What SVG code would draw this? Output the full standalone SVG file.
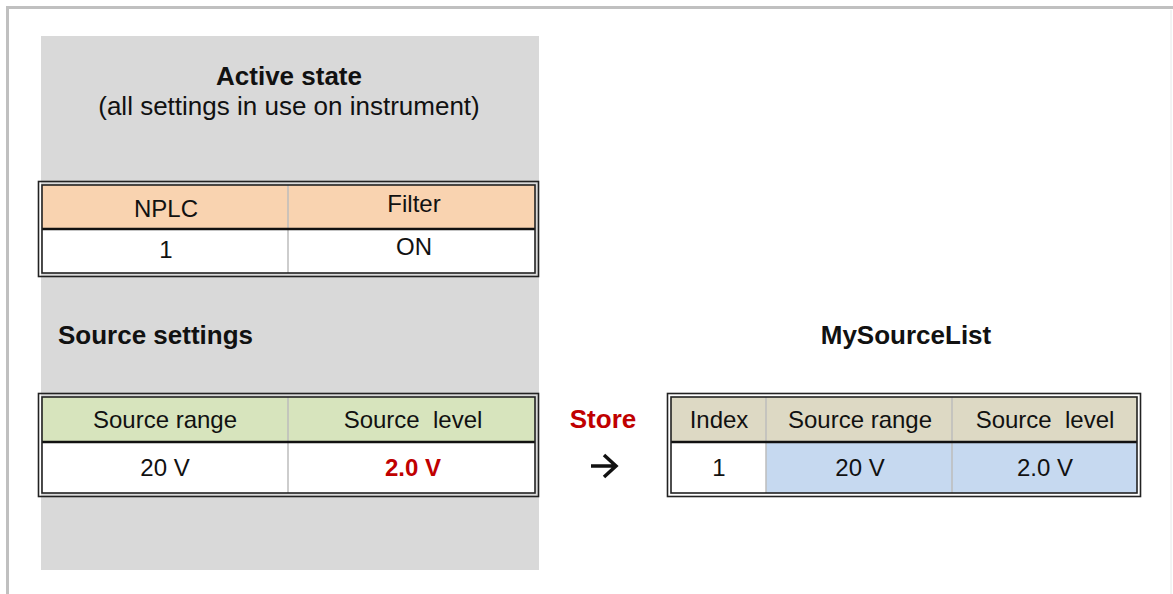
<svg xmlns="http://www.w3.org/2000/svg" width="1173" height="594" viewBox="0 0 1173 594">
<style>
text{font-family:"Liberation Sans",Arial,sans-serif;fill:#111}
.b{font-weight:bold;font-size:26px}
.r{font-size:26px}
.t{font-size:24px;text-anchor:middle}
.red{fill:#c00000}
.o{fill:none;stroke:#222;stroke-width:1.6}
.div{stroke:#bdbdbd;stroke-width:1.5}
.hl{stroke:#111;stroke-width:2.5}
.arr{fill:none;stroke:#111;stroke-width:3.5}
</style>
<rect x="0" y="0" width="1173" height="594" fill="#fff"/>
<rect x="7.5" y="7.5" width="1200" height="620" fill="none" stroke="#c0c0c0" stroke-width="3"/>
<line x1="1171" y1="10" x2="1171" y2="594" stroke="#e8e8e8" stroke-width="1"/>
<g id="active-panel">
<rect x="41" y="36" width="498" height="534" fill="#d9d9d9"/>
<text class="b" x="289" y="85" text-anchor="middle">Active state</text>
<text class="r" x="289" y="115" text-anchor="middle">(all settings in use on instrument)</text>
</g>
<g id="table-nplc">
<rect x="42" y="185" width="493" height="44" fill="#f9d3b0"/>
<rect x="42" y="229" width="493" height="44" fill="#fff"/>
<line class="div" x1="288" y1="185" x2="288" y2="273"/>
<line class="hl" x1="42" y1="229" x2="535" y2="229"/>
<rect class="o" x="38.5" y="181.5" width="500" height="95"/>
<rect class="o" x="42" y="185" width="493" height="88"/>
<text class="t" x="166" y="217">NPLC</text>
<text class="t" x="414" y="212">Filter</text>
<text class="t" x="166" y="258">1</text>
<text class="t" x="414" y="255">ON</text>
</g>
<g id="source-settings">
<text class="b" x="58" y="344">Source settings</text>
<rect x="42" y="397" width="493" height="45" fill="#d7e4bd"/>
<rect x="42" y="442" width="493" height="51" fill="#fff"/>
<line class="div" x1="288" y1="397" x2="288" y2="493"/>
<line class="hl" x1="42" y1="442" x2="535" y2="442"/>
<rect class="o" x="38.5" y="393.5" width="500" height="103"/>
<rect class="o" x="42" y="397" width="493" height="96"/>
<text class="t" x="165" y="428">Source range</text>
<text class="t" x="413" y="428" xml:space="preserve">Source  level</text>
<text class="t" x="165" y="476">20 V</text>
<text class="t red" x="413" y="476" font-weight="bold">2.0 V</text>
</g>
<g id="connectors">
<text class="b red" x="603" y="428" text-anchor="middle">Store</text>
<path class="arr" d="M591 466 H616 M604 455 L616 466 L604 477"/>
</g>
<g id="mysourcelist">
<text class="b" x="906" y="344" text-anchor="middle">MySourceList</text>
<rect x="671" y="397" width="466" height="45" fill="#ddd9c4"/>
<rect x="671" y="442" width="95" height="51" fill="#fff"/>
<rect x="766" y="442" width="371" height="51" fill="#c6d9f0"/>
<line class="div" x1="766" y1="397" x2="766" y2="493"/>
<line class="div" x1="952" y1="397" x2="952" y2="493"/>
<line class="hl" x1="671" y1="442" x2="1137" y2="442"/>
<rect class="o" x="667.5" y="393.5" width="473" height="103"/>
<rect class="o" x="671" y="397" width="466" height="96"/>
<text class="t" x="719" y="428">Index</text>
<text class="t" x="860" y="428">Source range</text>
<text class="t" x="1045" y="428" xml:space="preserve">Source  level</text>
<text class="t" x="719" y="476">1</text>
<text class="t" x="860" y="476">20 V</text>
<text class="t" x="1045" y="476">2.0 V</text>
</g>
</svg>
